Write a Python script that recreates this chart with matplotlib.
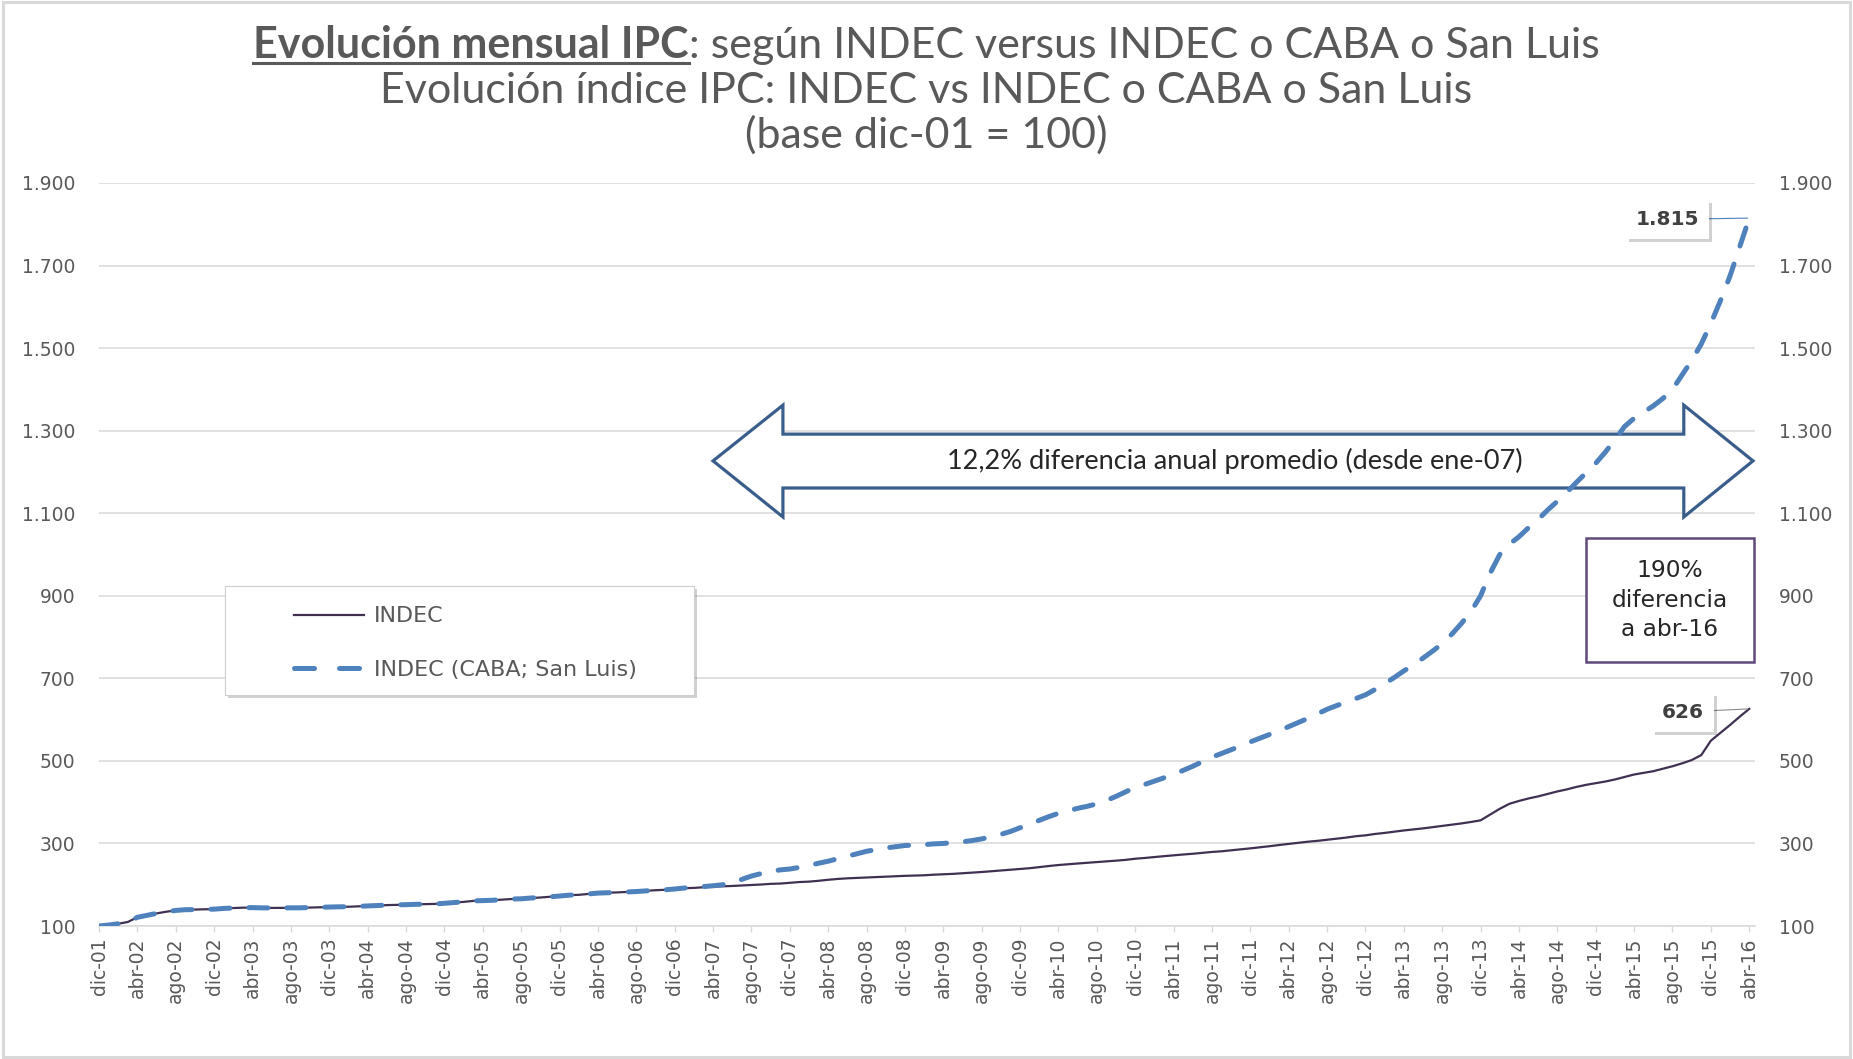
import matplotlib
matplotlib.use("Agg")
import matplotlib.pyplot as plt
import matplotlib.patheffects as pe
import numpy as np
from matplotlib.lines import Line2D
from matplotlib.patches import Polygon, Rectangle
from matplotlib.ticker import FuncFormatter

W, H, DPI = 1853, 1059, 100

# monthly index, base dic-01 = 100 (dic-01 ... abr-16, 173 months)
INDEC = [
    100.0,
    102.3, 105.5, 109.7, 121.1, 125.9, 130.5, 134.6, 137.7, 139.5, 139.8, 140.5, 140.8,   # 2002
    142.6, 143.5, 144.4, 144.5, 143.9, 143.8, 144.0, 144.0, 144.1, 144.7, 145.3, 145.9,   # 2003
    146.5, 146.6, 147.6, 148.5, 149.6, 150.6, 151.1, 151.7, 152.5, 152.9, 153.5, 155.0,   # 2004
    156.9, 158.4, 160.8, 161.6, 162.3, 163.8, 165.4, 165.9, 167.8, 169.0, 170.8, 172.6,   # 2005
    174.7, 175.5, 177.6, 179.7, 180.5, 181.4, 182.5, 183.5, 185.2, 186.7, 187.7, 189.6,   # 2006
    191.6, 192.3, 193.8, 195.3, 196.1, 197.0, 198.1, 199.1, 200.5, 202.1, 202.8, 204.6,   # 2007
    206.5, 207.5, 209.5, 212.0, 214.0, 215.5, 216.5, 217.5, 218.5, 219.5, 220.5, 221.5,   # 2008
    222.2, 222.9, 224.3, 225.3, 226.3, 227.7, 229.3, 230.8, 232.6, 234.4, 236.0, 237.8,   # 2009
    240.0, 242.7, 245.3, 247.7, 249.6, 251.4, 253.1, 254.7, 256.4, 258.3, 260.2, 263.0,   # 2010
    264.8, 267.1, 269.2, 271.3, 273.2, 275.0, 277.3, 279.4, 281.0, 283.3, 285.8, 288.1,   # 2011
    290.7, 293.3, 296.2, 298.8, 301.4, 304.2, 306.3, 309.0, 311.5, 314.2, 317.5, 319.6,   # 2012
    323.0, 325.5, 328.5, 331.5, 334.0, 336.5, 339.5, 342.5, 345.5, 348.5, 352.0, 356.0,   # 2013
    370.0, 384.0, 396.0, 403.0, 409.0, 414.0, 420.0, 426.0, 431.0, 437.0, 442.0, 446.0,   # 2014
    450.0, 455.0, 461.0, 467.0, 471.0, 475.0, 481.0, 487.0, 494.0, 502.0, 514.0, 549.0,   # 2015
    568.0, 587.0, 607.0, 626.0,                                                           # 2016
]

# alternative series, only differs from ene-07 on
CABA_SL_FROM_2007 = [
    192.0, 193.5, 195.5, 197.5, 200.0, 205.0, 213.0, 221.0, 227.0, 232.0, 236.0, 238.0,   # 2007
    242.0, 247.0, 252.0, 257.0, 263.0, 269.0, 275.0, 281.0, 285.0, 289.0, 292.0, 295.0,   # 2008
    296.0, 297.0, 299.0, 300.0, 302.0, 304.0, 307.0, 311.0, 316.0, 322.0, 329.0, 338.0,   # 2009
    346.0, 356.0, 365.0, 373.0, 379.0, 385.0, 390.0, 396.0, 404.0, 414.0, 425.0, 436.0,   # 2010
    443.0, 451.0, 459.0, 467.0, 477.0, 487.0, 498.0, 509.0, 518.0, 527.0, 536.0, 546.0,   # 2011
    555.0, 564.0, 573.0, 583.0, 593.0, 603.0, 614.0, 625.0, 634.0, 643.0, 651.0, 660.0,   # 2012
    673.0, 687.0, 702.0, 718.0, 733.0, 749.0, 766.0, 784.0, 807.0, 833.0, 862.0, 900.0,   # 2013
    955.0, 1000.0, 1025.0, 1043.0, 1065.0, 1085.0, 1108.0, 1129.0, 1151.0, 1175.0, 1198.0, 1221.0,  # 2014
    1248.0, 1278.0, 1310.0, 1330.0, 1345.0, 1360.0, 1378.0, 1400.0, 1435.0, 1470.0, 1510.0, 1560.0,  # 2015
    1615.0, 1675.0, 1745.0, 1815.0,                                                       # 2016
]
CABA_SL = INDEC[:61] + CABA_SL_FROM_2007

TICK_LABELS = [
    "dic-01", "abr-02", "ago-02", "dic-02", "abr-03", "ago-03", "dic-03", "abr-04", "ago-04",
    "dic-04", "abr-05", "ago-05", "dic-05", "abr-06", "ago-06", "dic-06", "abr-07", "ago-07",
    "dic-07", "abr-08", "ago-08", "dic-08", "abr-09", "ago-09", "dic-09", "abr-10", "ago-10",
    "dic-10", "abr-11", "ago-11", "dic-11", "abr-12", "ago-12", "dic-12", "abr-13", "ago-13",
    "dic-13", "abr-14", "ago-14", "dic-14", "abr-15", "ago-15", "dic-15", "abr-16",
]
Y_TICKS = [100, 300, 500, 700, 900, 1100, 1300, 1500, 1700, 1900]

SANS = ["DejaVu Sans"]
TITLE_FONT = ["Lato", "DejaVu Sans"]
GREY = "#595959"
GRID = "#D9D9D9"
C_INDEC = "#403152"
C_ALT = "#4F81BD"
DASH = (3.8, 3.8)


def thousands(v, _pos):
    return f"{int(round(v)):,}".replace(",", ".")


fig = plt.figure(figsize=(W / DPI, H / DPI), dpi=DPI)
fig.patches.append(Rectangle((0.0015, 0.002), 0.997, 0.996, transform=fig.transFigure,
                             fill=False, ec=GRID, lw=2.2))

ax = fig.add_axes([99 / W, 1 - 926 / H, (1755 - 99) / W, (926 - 183) / H])
x = np.arange(len(INDEC))
ax.plot(x, INDEC, color=C_INDEC, lw=1.6, zorder=3)
ax.plot(x, CABA_SL, color=C_ALT, lw=3.6, dashes=DASH, dash_capstyle="round", zorder=4)

ax.set_xlim(0, 172.6)
ax.set_ylim(100, 1900)
ax.set_yticks(Y_TICKS)
ax.yaxis.set_major_formatter(FuncFormatter(thousands))
ax.grid(axis="y", color=GRID, lw=1.1)
ax.set_axisbelow(True)
for s in ax.spines.values():
    s.set_visible(False)
ax.spines["bottom"].set_visible(True)
ax.spines["bottom"].set_color(GRID)
ax.spines["bottom"].set_linewidth(1.1)

ax.set_xticks(np.arange(0, len(INDEC), 4))
ax.set_xticklabels(TICK_LABELS, rotation=90, fontsize=13.5, color=GREY, family=SANS)
ax.tick_params(axis="x", length=4.3, color=GRID, width=1.0, pad=4)
ax.tick_params(axis="y", length=0, labelsize=13.5, labelcolor=GREY, pad=17,
               labelright=True, right=False)

# legend with shadowed frame
shadow = [pe.withSimplePatchShadow(offset=(2.5, -2.5), shadow_rgbFace="black", alpha=0.18), pe.Normal()]
frame = Rectangle((0.0761, 0.3109), 0.2832, 0.1467, transform=ax.transAxes, fc="white",
                  ec="#D0D0D0", lw=0.8, zorder=4.5)
frame.set_path_effects(shadow)
ax.add_patch(frame)
handles = [Line2D([], [], color=C_INDEC, lw=1.6),
           Line2D([], [], color=C_ALT, lw=3.6, dashes=(4.0, 5.0), dash_capstyle="round")]
leg = ax.legend(handles, ["INDEC", "INDEC (CABA; San Luis)"], loc="upper left",
                bbox_to_anchor=(0.111, 0.445), frameon=False, borderpad=0,
                handlelength=3.15, handletextpad=0.45, labelspacing=1.5,
                prop=dict(family=SANS, size=16))
for t in leg.get_texts():
    t.set_color(GREY)
leg.set_zorder(5)

# block double arrow
arrow_pts = [(0.3708, 0.626), (0.413, 0.701), (0.413, 0.662), (0.957, 0.662), (0.957, 0.701),
             (0.9988, 0.626), (0.957, 0.5505), (0.957, 0.5895), (0.413, 0.5895), (0.413, 0.5505)]
ax.add_patch(Polygon(arrow_pts, closed=True, transform=ax.transAxes, fc="white", ec="#3A5E8C",
                     lw=2.3, zorder=2.5, joinstyle="miter", clip_on=False))
ax.text(0.686, 0.626, "12,2% diferencia anual promedio (desde ene-07)", transform=ax.transAxes,
        ha="center", va="center", fontsize=19.5, family=TITLE_FONT, color="#262626", zorder=5)

# 190% box
ax.add_patch(Rectangle((0.898, 0.3553), 0.1014, 0.1667, transform=ax.transAxes, fc="white",
                       ec="#5F497A", lw=1.8, zorder=2.6, clip_on=False))
ax.text(0.9487, 0.4387, "190%\ndiferencia\na abr-16", transform=ax.transAxes, ha="center",
        va="center", fontsize=16.8, family=SANS, color="#262626", linespacing=1.35, zorder=5)

# end-point labels
box = dict(boxstyle="square,pad=0.5", fc="white", ec="none")
for series, pos, lc in [(CABA_SL, (0.9469, 0.951), C_ALT), (INDEC, (0.9562, 0.288), "#8C8C8C")]:
    a = ax.annotate(thousands(series[-1], None), xy=(x[-1], series[-1]), xytext=pos,
                    textcoords="axes fraction", ha="center", va="center", fontsize=14.5,
                    fontweight="bold", family=SANS, color="#404040", bbox=box, zorder=6,
                    arrowprops=dict(arrowstyle="-", color=lc, lw=0.8, shrinkA=0, shrinkB=1))
    a.get_bbox_patch().set_path_effects(shadow)

# title, first line mixes bold+underline with regular text
TS = 31
r = fig.canvas.get_renderer()
t_bold = fig.text(0, 1 - 58 / H, "Evolución mensual IPC", fontsize=TS, fontweight="bold",
                  family=TITLE_FONT, color=GREY, ha="left", va="baseline")
t_rest = fig.text(0, 1 - 58 / H, ": según INDEC versus INDEC o CABA o San Luis", fontsize=TS,
                  family=TITLE_FONT, color=GREY, ha="left", va="baseline")
wb = t_bold.get_window_extent(r).width
wr = t_rest.get_window_extent(r).width
x0 = (W - wb - wr) / 2
t_bold.set_x(x0 / W)
t_rest.set_x((x0 + wb) / W)
fig.lines.append(Line2D([x0 / W, (x0 + wb) / W], [1 - 62.5 / H] * 2, transform=fig.transFigure,
                        color=GREY, lw=2.2))
fig.text(0.5, 1 - 103 / H, "Evolución índice IPC: INDEC vs INDEC o CABA o San Luis", fontsize=TS,
         family=TITLE_FONT, color=GREY, ha="center", va="baseline")
fig.text(0.5, 1 - 148 / H, "(base dic-01 = 100)", fontsize=TS, family=TITLE_FONT, color=GREY,
         ha="center", va="baseline")

fig.savefig("out.png", dpi=DPI)
